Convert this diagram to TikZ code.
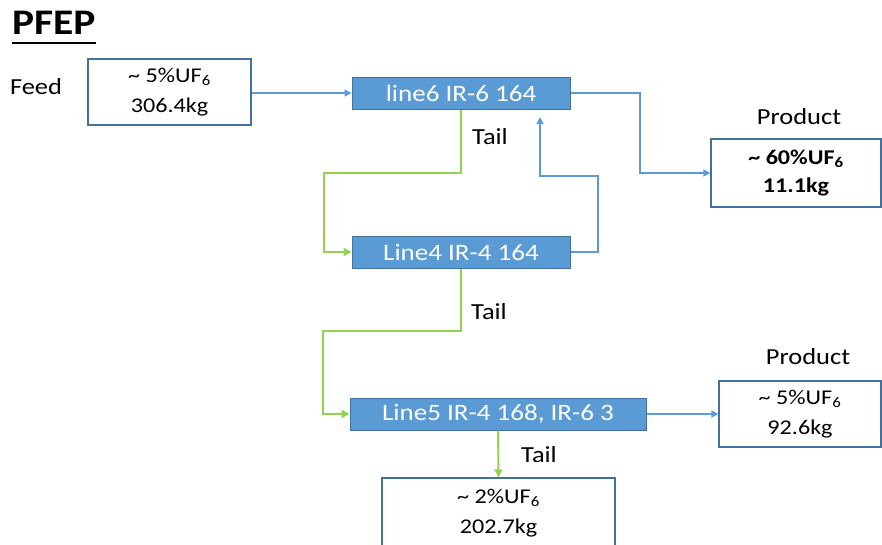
\documentclass[tikz,border=0pt]{standalone}
\usepackage{fontspec}
\setmainfont[FakeStretch=1.15]{Carlito}
\usetikzlibrary{arrows.meta}
\definecolor{procfill}{HTML}{5B9BD5}
\definecolor{procdraw}{HTML}{41719C}
\definecolor{bline}{HTML}{5B9BD5}
\definecolor{gline}{HTML}{92D050}
\definecolor{boxdraw}{HTML}{41719C}
\begin{document}
\begin{tikzpicture}[x=1pt,y=-1pt,
  proc/.style={draw=procdraw, fill=procfill, line width=1pt, text=white,
    font=\fontsize{23.5}{24}\selectfont, minimum height=32pt, inner sep=0pt},
  databox/.style={draw=boxdraw, line width=1.2pt, fill=white, align=center,
    font=\fontsize{21}{30}\selectfont, inner sep=0pt},
  lbl/.style={font=\fontsize{23}{24}\selectfont, inner sep=0pt},
  bflow/.style={draw=bline, line width=1.3pt, -{Triangle[length=7pt,width=7pt]}},
  gflow/.style={draw=gline, line width=1.9pt, -{Triangle[length=8pt,width=8pt]}}]
\useasboundingbox (0,0) rectangle (882,544);
\clip (0,0) rectangle (882,544);
% title
\node[font=\bfseries\fontsize{36}{38}\selectfont, anchor=base west, inner sep=0pt] (title) at (12,34) {PFEP};
\draw[line width=2.2pt] ([yshift=-9pt]title.base west) -- ([yshift=-9pt]title.base east);
% labels
\node[lbl] (feedlbl) at (36,87) {Feed};
\node[lbl] (prod1lbl) at (799,117) {Product};
\node[lbl] (prod2lbl) at (808,357) {Product};
\node[lbl] (tail1) at (490,137) {Tail};
\node[lbl] (tail2) at (489,312) {Tail};
\node[lbl] (tail3) at (539,455) {Tail};
% boxes
\node[databox, minimum width=163pt, minimum height=66pt] (feed) at (169.5,92) {\textasciitilde{} 5\%UF\textsubscript{6}\\306.4kg};
\node[databox, minimum width=170pt, minimum height=68pt, font=\bfseries\fontsize{21}{28}\selectfont] (p1) at (796,173) {\textasciitilde{} 60\%UF\textsubscript{6}\\11.1kg};
\node[databox, minimum width=162pt, minimum height=66pt] (p2) at (800,414) {\textasciitilde{} 5\%UF\textsubscript{6}\\92.6kg};
\node[databox, minimum width=233pt, minimum height=71pt] (bot) at (498.5,513.5) {\textasciitilde{} 2\%UF\textsubscript{6}\\202.7kg};
% process lines
\node[proc, minimum width=218pt] (l6) at (461,93) {line6 IR-6 164};
\node[proc, minimum width=218pt] (l4) at (461,252) {Line4 IR-4 164};
\node[proc, minimum width=296pt] (l5) at (498,414) {Line5 IR-4 168, IR-6 3};
% coordinates
\coordinate (c1) at (640,173);
\coordinate (c2) at (324,173);
\coordinate (c3) at (598,176);
\coordinate (c4) at (540,117);
\coordinate (c5) at (323,331);
% connectors
\draw[bflow] (feed.east |- l6.west) -- (l6.west);
\draw[bflow] (l6.east) -| (c1) -- (p1.west);
\draw[gflow] (l6.south) |- (c2) |- (l4.west);
\draw[bflow] (l4.east) -| (c3) -| (c4);
\draw[gflow] (l4.south) |- (c5) |- (l5.west);
\draw[bflow] (l5.east) -- (p2.west);
\draw[gflow] (l5.south) -- (bot.north);
\end{tikzpicture}
\end{document}
